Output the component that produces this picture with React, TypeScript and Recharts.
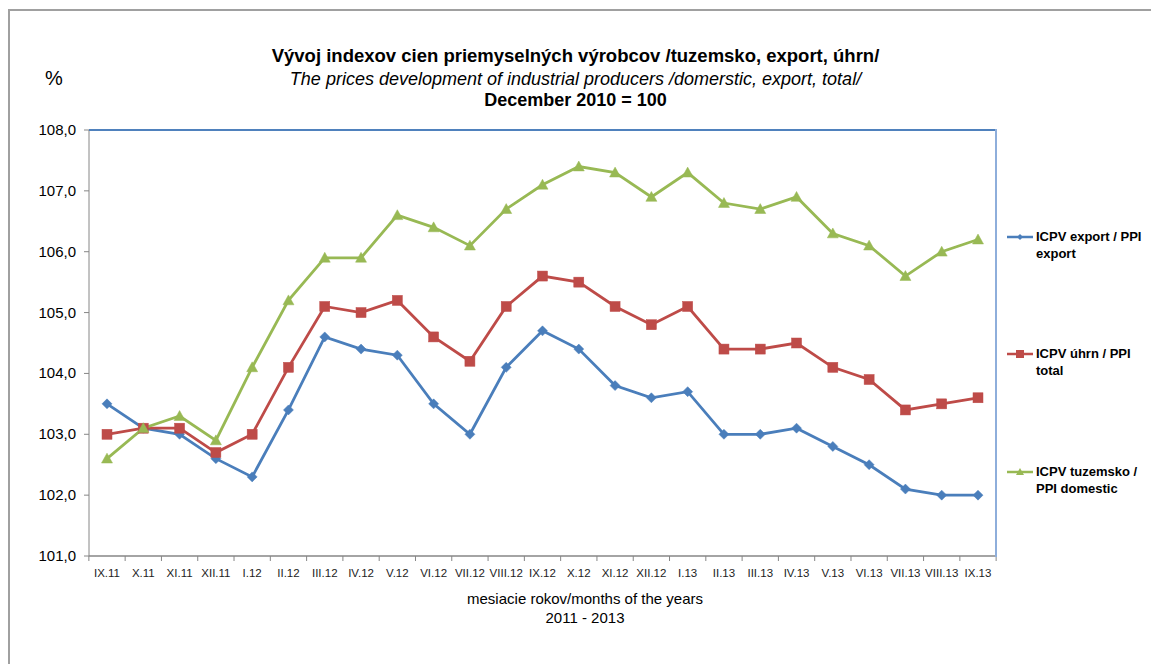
import React from 'react';
import { LineChart, Line, XAxis, YAxis, CartesianGrid } from 'recharts';

const months = ['IX.11','X.11','XI.11','XII.11','I.12','II.12','III.12','IV.12','V.12','VI.12','VII.12','VIII.12','IX.12','X.12','XI.12','XII.12','I.13','II.13','III.13','IV.13','V.13','VI.13','VII.13','VIII.13','IX.13'];
const exportVals = [103.5,103.1,103.0,102.6,102.3,103.4,104.6,104.4,104.3,103.5,103.0,104.1,104.7,104.4,103.8,103.6,103.7,103.0,103.0,103.1,102.8,102.5,102.1,102.0,102.0];
const totalVals = [103.0,103.1,103.1,102.7,103.0,104.1,105.1,105.0,105.2,104.6,104.2,105.1,105.6,105.5,105.1,104.8,105.1,104.4,104.4,104.5,104.1,103.9,103.4,103.5,103.6];
const domesticVals = [102.6,103.1,103.3,102.9,104.1,105.2,105.9,105.9,106.6,106.4,106.1,106.7,107.1,107.4,107.3,106.9,107.3,106.8,106.7,106.9,106.3,106.1,105.6,106.0,106.2];
const yTicks = [101,102,103,104,105,106,107,108];

const BLUE = '#4a7ebb';
const RED = '#be4b48';
const GREEN = '#98b954';

const data = months.map((m, i) => ({ m, exp: exportVals[i], tot: totalVals[i], dom: domesticVals[i] }));

const Diamond = (p: any) => {
  const { cx, cy } = p;
  if (cx == null || cy == null) return null;
  const r = 5;
  return <path key={p.index} d={`M${cx},${cy - r}L${cx + r},${cy}L${cx},${cy + r}L${cx - r},${cy}Z`} fill={BLUE} stroke={BLUE} strokeWidth={0.5} />;
};
const Square = (p: any) => {
  const { cx, cy } = p;
  if (cx == null || cy == null) return null;
  const r = 5;
  return <rect key={p.index} x={cx - r} y={cy - r} width={2 * r} height={2 * r} fill={RED} stroke={RED} strokeWidth={0.5} />;
};
const Triangle = (p: any) => {
  const { cx, cy } = p;
  if (cx == null || cy == null) return null;
  const r = 5.5;
  return <path key={p.index} d={`M${cx},${cy - r}L${cx + r},${cy + r * 0.8}L${cx - r},${cy + r * 0.8}Z`} fill={GREEN} stroke={GREEN} strokeWidth={0.5} />;
};

const font = "Arial, 'Liberation Sans', sans-serif";

const XTick = (p: any) => {
  const { x, y, payload, index } = p;
  const off = payload && payload.offset ? payload.offset : 18.14;
  return (
    <g>
      <line x1={x - off} x2={x - off} y1={y - 8} y2={y - 3} stroke="#868686" />
      {index === months.length - 1 && <line x1={x + off} x2={x + off} y1={y - 8} y2={y - 3} stroke="#868686" />}
      <text x={x} y={y + 13} textAnchor="middle" fontSize={11.5} fontFamily={font} fill="#222">{payload.value}</text>
    </g>
  );
};

const YTick = (p: any) => {
  const { x, y, payload } = p;
  return (
    <text x={x} y={y + 5} textAnchor="end" fontSize={15} fontFamily={font} fill="#000">
      {Number(payload.value).toFixed(1).replace('.', ',')}
    </text>
  );
};

const legendItems = [
  { color: BLUE, l1: 'ICPV export / PPI', l2: 'export', top: 228, kind: 'd' },
  { color: RED, l1: 'ICPV úhrn / PPI', l2: 'total', top: 345, kind: 's' },
  { color: GREEN, l1: 'ICPV tuzemsko /', l2: 'PPI domestic', top: 463, kind: 't' },
];

export default function App() {
  return (
    <div style={{ position: 'absolute', left: 0, top: 0, width: 1151, height: 664, overflow: 'hidden', background: '#fff', fontFamily: font }}>
      <div style={{ position: 'absolute', left: 8, top: 9, width: 1200, height: 700, borderLeft: '2px solid #a0a0a0', borderTop: '2px solid #a0a0a0' }} />
      <div style={{ position: 'absolute', left: 0, width: 1151, top: 45, textAlign: 'center', fontSize: 18.5, fontWeight: 'bold', color: '#000', lineHeight: '22px' }}>
        Vývoj indexov cien priemyselných výrobcov /tuzemsko, export, úhrn/
      </div>
      <div style={{ position: 'absolute', left: 0, width: 1151, top: 68, textAlign: 'center', fontSize: 18, fontStyle: 'italic', color: '#000', lineHeight: '22px' }}>
        The prices development of industrial producers /domerstic, export, total/
      </div>
      <div style={{ position: 'absolute', left: 0, width: 1151, top: 89, textAlign: 'center', fontSize: 18, fontWeight: 'bold', color: '#000', lineHeight: '22px' }}>
        December 2010 = 100
      </div>
      <div style={{ position: 'absolute', left: 45, top: 67, fontSize: 20, color: '#000' }}>%</div>
      <div style={{ position: 'absolute', left: 285, width: 600, top: 589, textAlign: 'center', fontSize: 15, color: '#000', lineHeight: '19px' }}>
        mesiacie rokov/months of the years<br />2011 - 2013
      </div>
      {legendItems.map((it) => (
        <div key={it.l1} style={{ position: 'absolute', left: 1007, top: it.top, width: 144, fontSize: 13, fontWeight: 'bold', lineHeight: '17px', color: '#000' }}>
          <svg width={28} height={14} style={{ position: 'absolute', left: 0, top: 2 }}>
            <line x1={0} x2={26} y1={7} y2={7} stroke={it.color} strokeWidth={2.5} />
            {it.kind === 'd' && <path d="M13,4L16,7L13,10L10,7Z" fill={it.color} />}
            {it.kind === 's' && <rect x={9} y={3} width={8} height={8} fill={it.color} />}
            {it.kind === 't' && <path d="M13,3L17,10L9,10Z" fill={it.color} />}
          </svg>
          <div style={{ marginLeft: 29 }}>{it.l1}<br />{it.l2}</div>
        </div>
      ))}
      <div style={{ position: 'absolute', left: 0, top: 0 }}>
        <LineChart width={1151} height={664} data={data} margin={{ top: 130, right: 155, bottom: 68, left: 29 }}>
          <CartesianGrid vertical={false} horizontal={true} stroke="#868686" strokeWidth={1.2} />
          <XAxis dataKey="m" tick={<XTick />} tickLine={false} axisLine={{ stroke: '#868686' }} interval={0} height={40} padding={{ left: 18, right: 18 }} />
          <YAxis yAxisId="l" domain={[101, 108]} ticks={yTicks} width={60} tick={<YTick />}
            axisLine={{ stroke: '#868686' }} tickLine={{ stroke: '#868686' }} tickSize={5} tickMargin={8} allowDataOverflow />
          <Line yAxisId="l" dataKey="exp" stroke={BLUE} strokeWidth={2.8} dot={<Diamond />} activeDot={false} isAnimationActive={false} />
          <Line yAxisId="l" dataKey="tot" stroke={RED} strokeWidth={2.8} dot={<Square />} activeDot={false} isAnimationActive={false} />
          <Line yAxisId="l" dataKey="dom" stroke={GREEN} strokeWidth={2.8} dot={<Triangle />} activeDot={false} isAnimationActive={false} />
        </LineChart>
      </div>
      <div style={{ position: 'absolute', left: 89, top: 129, width: 907, height: 2, background: '#4f81bd' }} />
      <div style={{ position: 'absolute', left: 995, top: 129, width: 2, height: 428, background: '#8eaedb' }} />
    </div>
  );
}
